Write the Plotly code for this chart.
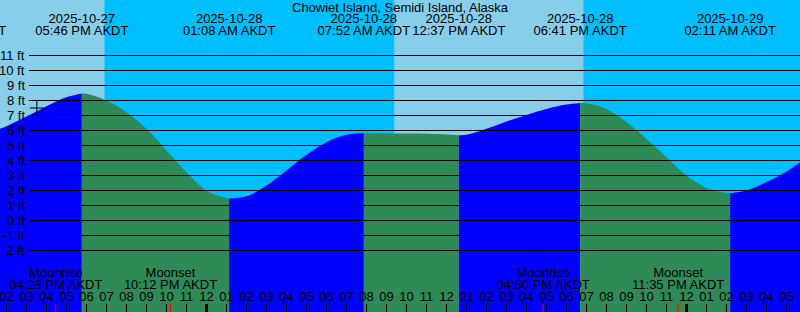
import plotly.graph_objects as go
from datetime import datetime, timedelta

# ---------------- data ----------------
station = "Chowiet Island, Semidi Island, Alaska"
tz_name = "AKDT"

# tide height samples (ft)
curve_time = [
    "2025-10-27 13:40:30", "2025-10-27 14:00", "2025-10-27 15:00", "2025-10-27 16:00",
    "2025-10-27 17:00", "2025-10-27 17:46", "2025-10-27 18:00", "2025-10-27 19:00",
    "2025-10-27 20:00", "2025-10-27 21:00", "2025-10-27 22:00", "2025-10-27 23:00",
    "2025-10-28 00:00", "2025-10-28 01:00", "2025-10-28 01:08", "2025-10-28 02:00",
    "2025-10-28 03:00", "2025-10-28 04:00", "2025-10-28 05:00", "2025-10-28 06:00",
    "2025-10-28 07:00", "2025-10-28 07:52", "2025-10-28 08:00", "2025-10-28 09:00",
    "2025-10-28 10:00", "2025-10-28 11:00", "2025-10-28 12:00", "2025-10-28 12:37",
    "2025-10-28 13:00", "2025-10-28 14:00", "2025-10-28 15:00", "2025-10-28 16:00",
    "2025-10-28 17:00", "2025-10-28 18:00", "2025-10-28 18:41", "2025-10-28 19:00",
    "2025-10-28 20:00", "2025-10-28 21:00", "2025-10-28 22:00", "2025-10-28 23:00",
    "2025-10-29 00:00", "2025-10-29 01:00", "2025-10-29 02:00", "2025-10-29 02:11",
    "2025-10-29 03:00", "2025-10-29 04:00", "2025-10-29 05:00", "2025-10-29 05:40:30",
]
curve_ft = [
    6.11, 6.29, 6.93, 7.62,
    8.22, 8.47, 8.45, 8.00,
    7.22, 6.11, 4.67, 3.22,
    2.00, 1.49, 1.47, 1.62,
    2.33, 3.33, 4.38, 5.22,
    5.71, 5.84, 5.84, 5.82,
    5.80, 5.78, 5.73, 5.69,
    5.71, 6.11, 6.60, 7.04,
    7.44, 7.73, 7.84, 7.82,
    7.44, 6.56, 5.44, 4.22,
    3.00, 2.16, 1.84, 1.82,
    2.00, 2.56, 3.27, 3.89,
]

# high / low tide events
ext_time = ["2025-10-27 11:42", "2025-10-27 17:46", "2025-10-28 01:08", "2025-10-28 07:52",
            "2025-10-28 12:37", "2025-10-28 18:41", "2025-10-29 02:11"]

# sun events (day/night shading)
sun_time = ["2025-10-27 18:54", "2025-10-28 09:24", "2025-10-28 18:51"]
sun_kind = ["Sunset", "Sunrise", "Sunset"]

# moon events
moon_time = ["2025-10-27 16:28", "2025-10-27 22:12", "2025-10-28 16:50", "2025-10-28 23:35"]
moon_kind = ["Moonrise", "Moonset", "Moonrise", "Moonset"]

# marker on the curve
mark_time = ["2025-10-27 15:31"]
mark_ft = [7.5]

ft_levels = list(range(-2, 12))

x_start = "2025-10-27 13:40:30"
x_end = "2025-10-29 05:40:30"

# ---------------- styles ----------------
FONT = "Liberation Sans, Arial, sans-serif"
DAY = "#87CEEB"
NIGHT = "#00BFFF"
FLOOD = "#0000FF"
EBB = "#2E8B57"

# label rows on a pixel-like overlay axis (0 top, 312 bottom)
TITLE_Y, DATE_Y, TIME_Y = 7.5, 19.7, 31.3
MOON_NAME_Y, MOON_TIME_Y, HOUR_Y = 274.0, 285.8, 297.3
TICK_Y0, TICK_Y1 = 304, 312

def p(s):
    for f in ("%Y-%m-%d %H:%M:%S", "%Y-%m-%d %H:%M"):
        try:
            return datetime.strptime(s, f)
        except ValueError:
            pass
    raise ValueError(s)

fig = go.Figure()

# ---- day / night background ----
bounds = [x_start] + sun_time + [x_end]
is_day = [True] + [k == "Sunrise" for k in sun_kind]
shapes = []
for i in range(len(bounds) - 1):
    shapes.append(dict(type="rect", xref="x", yref="paper", x0=bounds[i], x1=bounds[i + 1],
                       y0=0, y1=1, fillcolor=DAY if is_day[i] else NIGHT,
                       line=dict(width=0), layer="below"))

# ---- tide fill, split at extremes ----
split_idx = [0] + [i for i, t in enumerate(curve_time) if t in ext_time] + [len(curve_time) - 1]
split_idx = sorted(set(split_idx))
for a, b in zip(split_idx[:-1], split_idx[1:]):
    xs = curve_time[a:b + 1]
    ys = curve_ft[a:b + 1]
    col = FLOOD if ys[-1] > ys[0] else EBB
    fig.add_trace(go.Scatter(x=[xs[0], xs[-1]], y=[-8, -8], mode="lines",
                             line=dict(width=0), hoverinfo="skip", showlegend=False))
    fig.add_trace(go.Scatter(x=xs, y=ys, mode="lines", line=dict(width=0, color=col, shape="spline"),
                             fill="tonexty", fillcolor=col, hoverinfo="skip", showlegend=False))

# ---- grid lines ----
for lv in ft_levels:
    shapes.append(dict(type="line", xref="paper", yref="y", x0=29 / 800, x1=1, y0=lv, y1=lv,
                       line=dict(color="black", width=1), layer="above"))

# ---- hour ticks & labels ----
h0 = datetime(2025, 10, 27, 14, 0)
hours = [h0 + timedelta(hours=k) for k in range(41)]
for h in hours:
    shapes.append(dict(type="line", xref="x", yref="y2", x0=h, x1=h, y0=TICK_Y0, y1=TICK_Y1,
                       line=dict(color="black", width=3 if h.hour == 0 else 1), layer="above"))
for t in moon_time:
    shapes.append(dict(type="line", xref="x", yref="y2", x0=t, x1=t, y0=TICK_Y0, y1=TICK_Y1,
                       line=dict(color="red", width=1), layer="above"))

fig.add_trace(go.Scatter(x=hours, y=[HOUR_Y] * len(hours), yaxis="y2", mode="text",
                         text=[f"{(h.hour % 12) or 12:02d}" for h in hours],
                         textposition="middle center",
                         textfont=dict(family=FONT, size=13, color="black"),
                         hoverinfo="skip", showlegend=False))

# ---- moon labels ----
fig.add_trace(go.Scatter(x=moon_time, y=[MOON_NAME_Y] * len(moon_time), yaxis="y2", mode="text",
                         text=moon_kind, textposition="middle center",
                         textfont=dict(family=FONT, size=13, color="black"),
                         hoverinfo="skip", showlegend=False))
fig.add_trace(go.Scatter(x=moon_time, y=[MOON_TIME_Y] * len(moon_time), yaxis="y2", mode="text",
                         text=[p(t).strftime("%I:%M %p ") + tz_name for t in moon_time],
                         textposition="middle center",
                         textfont=dict(family=FONT, size=13, color="black"),
                         hoverinfo="skip", showlegend=False))

# ---- tide event labels ----
fig.add_trace(go.Scatter(x=ext_time, y=[DATE_Y] * len(ext_time), yaxis="y2", mode="text",
                         text=[p(t).strftime("%Y-%m-%d") for t in ext_time],
                         textposition="middle center",
                         textfont=dict(family=FONT, size=13, color="black"),
                         hoverinfo="skip", showlegend=False))
fig.add_trace(go.Scatter(x=ext_time, y=[TIME_Y] * len(ext_time), yaxis="y2", mode="text",
                         text=[p(t).strftime("%I:%M %p ") + tz_name for t in ext_time],
                         textposition="middle center",
                         textfont=dict(family=FONT, size=13, color="black"),
                         hoverinfo="skip", showlegend=False))

# ---- cross mark ----
fig.add_trace(go.Scatter(x=mark_time, y=mark_ft, mode="markers",
                         marker=dict(symbol="cross-thin", size=10, line=dict(color="black", width=1)),
                         hoverinfo="skip", showlegend=False))

# ---- annotations: y labels and title ----
annotations = []
for lv in ft_levels:
    annotations.append(dict(xref="paper", yref="y", x=27 / 800, y=lv, xanchor="right",
                            yanchor="middle", text=f"{lv} ft", showarrow=False,
                            font=dict(family=FONT, size=13, color="black")))
annotations.append(dict(xref="paper", yref="y2", x=0.5, y=TITLE_Y, xanchor="center",
                        yanchor="middle", text=station, showarrow=False,
                        font=dict(family=FONT, size=13, color="black")))

fig.update_layout(
    width=800, height=312,
    margin=dict(l=0, r=0, t=0, b=0),
    paper_bgcolor=DAY, plot_bgcolor=DAY,
    xaxis=dict(range=[x_start, x_end], visible=False, type="date"),
    yaxis=dict(range=[-6.1, 14.7], visible=False),
    yaxis2=dict(range=[312, 0], overlaying="y", visible=False),
    shapes=shapes, annotations=annotations,
    showlegend=False,
)

fig.write_html("out.html")
